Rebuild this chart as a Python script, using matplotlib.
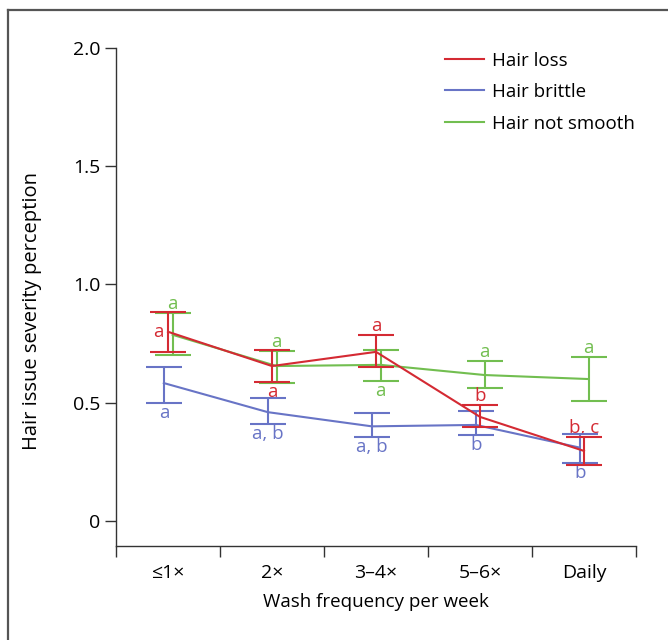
import matplotlib
matplotlib.use("Agg")
import matplotlib.pyplot as plt
from matplotlib.lines import Line2D

plt.rcParams['font.family'] = ['Open Sans', 'DejaVu Sans']

categories = ["\u22641\u00d7", "2\u00d7", "3\u20134\u00d7", "5\u20136\u00d7", "Daily"]
series_names = ["Hair loss", "Hair brittle", "Hair not smooth"]

loss_mean = [0.80, 0.655, 0.715, 0.44, 0.296]
loss_low = [0.715, 0.588, 0.653, 0.397, 0.237]
loss_high = [0.884, 0.723, 0.787, 0.49, 0.355]
loss_letters = ["a", "a", "a", "b", "b, c"]

brittle_mean = [0.583, 0.46, 0.40, 0.406, 0.31]
brittle_low = [0.50, 0.41, 0.355, 0.364, 0.245]
brittle_high = [0.65, 0.52, 0.457, 0.465, 0.368]
brittle_letters = ["a", "a, b", "a, b", "b", "b"]

smooth_mean = [0.787, 0.655, 0.66, 0.617, 0.60]
smooth_low = [0.70, 0.583, 0.592, 0.562, 0.507]
smooth_high = [0.88, 0.72, 0.723, 0.676, 0.693]
smooth_letters = ["a", "a", "a", "a", "a"]

colors = ["#d42a33", "#6874c6", "#72be50"]
offsets = [0.0, -0.04, 0.045]
letter_pos = [
    ["left", "below", "above", "above", "above"],
    ["below"] * 5,
    ["above", "above", "below", "above", "above"],
]

FS = 13.5

fig = plt.figure(figsize=(6.68, 6.4), dpi=100)
ax = fig.add_axes([116 / 668, 1 - 546 / 640, (636 - 116) / 668, (546 - 48) / 640])

data = [
    (loss_mean, loss_low, loss_high, loss_letters),
    (brittle_mean, brittle_low, brittle_high, brittle_letters),
    (smooth_mean, smooth_low, smooth_high, smooth_letters),
]

draw_order = [2, 1, 0]
for i in draw_order:
    mean, low, high, letters = data[i]
    xs = [k + offsets[i] for k in range(len(categories))]
    err = [[m - l for m, l in zip(mean, low)], [h - m for m, h in zip(mean, high)]]
    ax.errorbar(xs, mean, yerr=err, color=colors[i], lw=1.5, elinewidth=1.5,
                capsize=13, capthick=1.5, zorder=3 + (2 - i))
    for k, lab in enumerate(letters):
        pos = letter_pos[i][k]
        if pos == "above":
            ax.annotate(lab, (xs[k], high[k]), xytext=(0, 0), textcoords="offset points",
                        ha="center", va="bottom", color=colors[i], fontsize=FS)
        elif pos == "below":
            ax.annotate(lab, (xs[k], low[k]), xytext=(0, -1), textcoords="offset points",
                        ha="center", va="top", color=colors[i], fontsize=FS)
        else:
            ax.annotate(lab, (xs[k], mean[k]), xytext=(-3, 0), textcoords="offset points",
                        ha="right", va="center", color=colors[i], fontsize=FS)

ax.set_xlim(-0.5, 4.5)
ax.set_ylim(-0.106, 2.0)
ax.set_yticks([0, 0.5, 1.0, 1.5, 2.0])
ax.set_yticklabels(["0", "0.5", "1.0", "1.5", "2.0"])
ax.set_xticks([k - 0.5 for k in range(len(categories) + 1)])
ax.set_xticklabels([])
ax.set_xticks(range(len(categories)), minor=True)
ax.set_xticklabels(categories, minor=True)
ax.tick_params(axis="x", which="minor", length=0, pad=13, labelsize=14)
ax.tick_params(axis="x", which="major", length=8, width=1, color="#333333")
ax.tick_params(axis="y", length=8, width=1, color="#333333", pad=3, labelsize=14)
ax.spines["top"].set_visible(False)
ax.spines["right"].set_visible(False)
ax.spines["left"].set_bounds(-0.106, 2.0)
for s in ["left", "bottom"]:
    ax.spines[s].set_color("#333333")
    ax.spines[s].set_linewidth(1)

ax.set_xlabel("Wash frequency per week", fontsize=FS, labelpad=8)
fig.text(32 / 668, 1 - 311 / 640, "Hair issue severity perception", rotation=90,
         ha="center", va="center", fontsize=14.5)

handles = [Line2D([0], [0], color=c, lw=1.5) for c in colors]
ax.legend(handles, series_names, loc="upper right", bbox_to_anchor=(1.013, 1.008),
          borderaxespad=0, frameon=False, fontsize=FS, handlelength=2.1,
          handletextpad=0.45, labelspacing=0.72)

# outer frame (top and left edges only)
fig.add_artist(Line2D([8 / 668, 1], [1 - 10 / 640, 1 - 10 / 640], color="#555555", lw=1.6,
                      transform=fig.transFigure))
fig.add_artist(Line2D([8 / 668, 8 / 668], [0, 1 - 10 / 640], color="#555555", lw=1.6,
                      transform=fig.transFigure))

fig.savefig("out.png", dpi=100)
